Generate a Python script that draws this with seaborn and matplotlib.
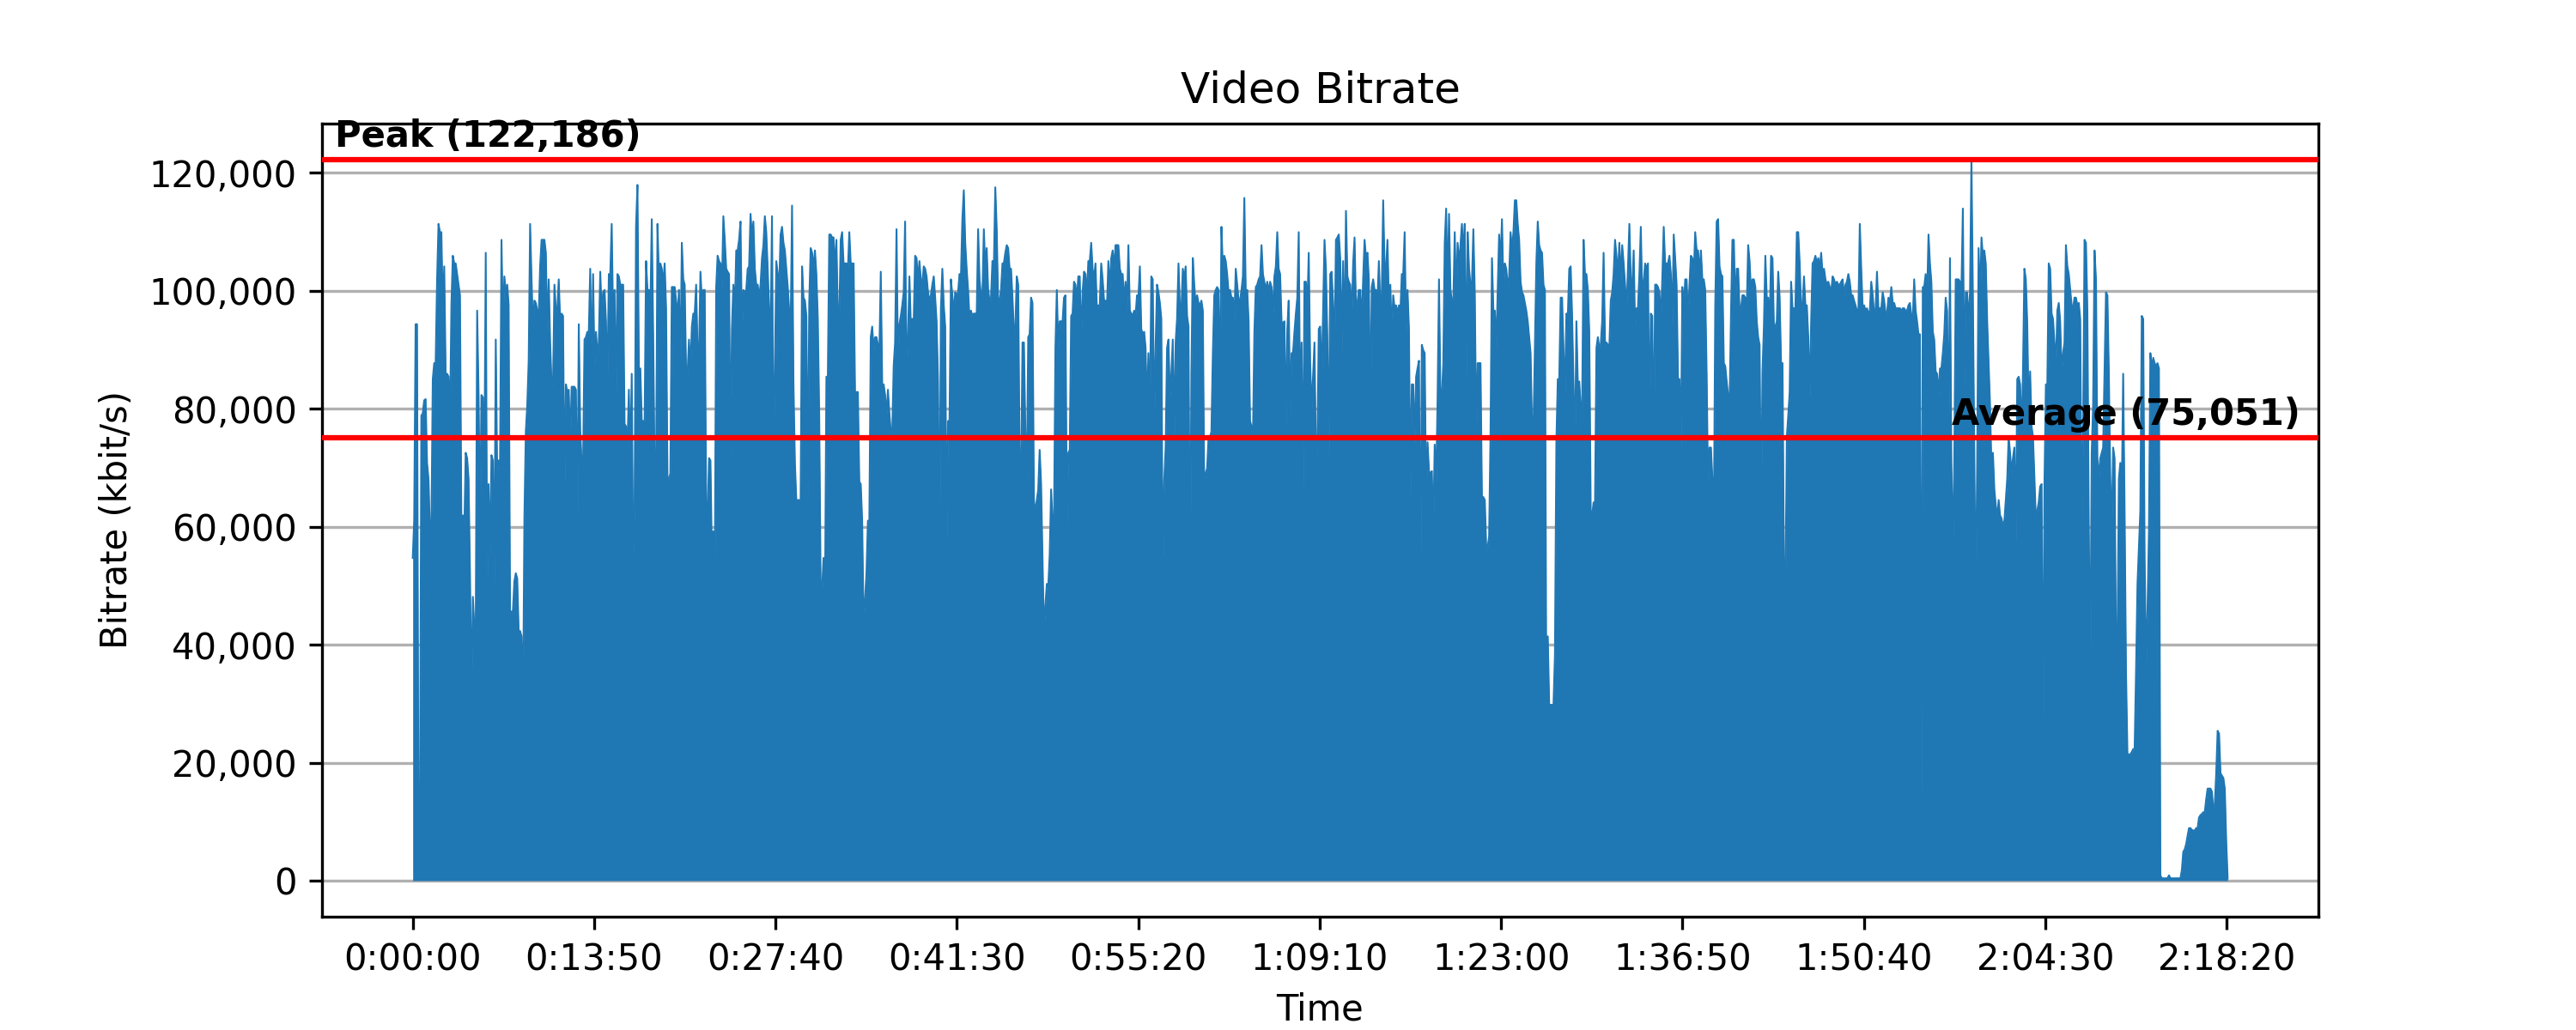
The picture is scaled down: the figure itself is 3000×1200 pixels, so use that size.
import numpy as np
import pandas as pd
import matplotlib
matplotlib.use("Agg")
import matplotlib.pyplot as plt
import matplotlib.transforms as mtransforms
from matplotlib.ticker import StrMethodFormatter
import seaborn as sns

# ---------------- data ----------------
SAMPLE_SECONDS = 6.549  # one estimated value every ~6.5 s of running time

# 0:00:00 - ~0:19:40
bitrate_part1 = [
    54700, 61000, 94300, 94300, 5800, 5800, 78800, 79200, 81400, 81600,
    70800, 68100, 59200, 59200, 85000, 87700, 87700, 101900, 111300, 109900,
    109900, 96600, 104100, 85900, 85900, 85400, 77000, 97500, 105900, 104600,
    104600, 102800, 101000, 99200, 60100, 61900, 59200, 72500, 71600, 68100,
    52100, 30300, 48100, 43200, 41400, 96600, 82300, 58300, 82300, 81900,
    68100, 106400, 49800, 67200, 54700, 72100, 71200, 49800, 91700, 69000,
    71200, 71200, 108600, 93900, 102400, 99700, 101000, 97600, 45800, 45400,
    45800, 50700, 52100, 51200, 42300, 42300, 41400, 27100, 61400, 76100,
    80500, 88100, 111300, 101900, 93500, 98300, 97900, 96600, 95700, 104100,
    108600, 108600, 108600, 106400, 92100, 101900, 91200, 84100, 84100, 101000,
    96600, 96600, 101900, 94800, 96100, 95700, 65400, 84100, 82800, 83200,
    73400, 83700, 83700, 83700, 83200, 59200, 94300, 76500, 70800, 70800,
    91700, 92100, 93000, 93000, 103700, 85900, 102800, 86800, 93000, 89400,
    91200, 103200, 96100, 99700, 100100, 94800, 84100, 102800, 102800, 111300,
    94800, 100100, 80500, 102800, 102400, 101000, 101000, 101000, 77400, 77000,
    73400, 83200, 69900, 85900, 54700, 63600, 110800, 117900, 86800, 86800,
    77900, 77900, 77900, 105000, 100100, 100100, 96600, 112100, 92100, 69000,
    69000, 111300, 101900, 104600, 103700, 101000, 104600, 97000, 68100, 68100,
]

# ~0:19:40 - ~0:46:30
bitrate_part2 = [
    69000, 100600, 100600, 100600, 98300, 95700, 100100, 86300, 108100, 101900,
    101000, 85900, 85900, 91700, 86300, 93900, 96100, 96100, 101000, 89400,
    89400, 103200, 98300, 100100, 100100, 64100, 61400, 71600, 71200, 55200,
    59200, 50700, 100600, 105900, 105000, 104600, 100600, 112600, 108600, 103700,
    103200, 102800, 70800, 93500, 101000, 96600, 106800, 106800, 108600, 111700,
    92600, 100100, 99700, 100100, 103700, 104100, 113000, 109000, 111700, 103700,
    101000, 101000, 98800, 101000, 105500, 107700, 112600, 109900, 103700, 96600,
    92600, 112600, 71200, 86800, 105000, 102800, 100600, 109500, 110800, 108100,
    106800, 103700, 100600, 96600, 93000, 114400, 84100, 70800, 64500, 64500,
    64500, 64500, 104100, 98800, 98300, 95700, 64500, 97900, 107200, 106400,
    103700, 106800, 102800, 95200, 78800, 49800, 49400, 54700, 47200, 85400,
    85400, 109500, 109500, 109000, 109000, 103700, 108600, 95700, 95700, 108600,
    109900, 104600, 104600, 104600, 103200, 109900, 104600, 104600, 104600, 82800,
    82800, 82800, 67600, 67200, 61000, 43200, 47600, 52100, 61000, 61000,
    92100, 93900, 89900, 92100, 92100, 90800, 89400, 103200, 84100, 84100,
    82300, 78800, 83200, 79200, 76100, 76100, 87200, 91200, 110400, 87700,
    94300, 95700, 97500, 99700, 111700, 85900, 92100, 102400, 94300, 95200,
    94800, 105900, 105500, 101500, 105000, 101900, 101000, 104100, 103700, 102400,
    99700, 98300, 99200, 101000, 102400, 98800, 94800, 84600, 52100, 97000,
    103700, 97500, 93900, 57000, 77900, 77900, 101900, 99200, 96100, 99700,
    99200, 99700, 102800, 102400, 112100, 117000, 108100, 103700, 100100, 95200,
    96600, 95700, 96100, 96100, 95700, 110400, 101900, 99200, 99200, 110400,
    103700, 107200, 100100, 98300, 98800, 105000, 104100, 117500, 110400, 97900,
    98300, 100100, 104600, 104600, 106400, 107700, 107200, 103700, 103700, 98800,
    93000, 93500, 102400, 101000, 71600, 67200,
]

# ~0:46:30 - ~1:13:20
bitrate_part3 = [
    91200, 91200, 76100, 67200, 92100, 92600, 98800, 97900, 64500, 62300,
    64500, 66300, 73000, 67200, 54300, 41800, 46700, 50300, 49800, 55200,
    66300, 61000, 59600, 90300, 100100, 90300, 94800, 94800, 94800, 98800,
    99200, 60100, 72500, 73000, 95700, 96100, 101500, 101000, 98300, 102400,
    102400, 91200, 99700, 103200, 102800, 98800, 105000, 105000, 108100, 103700,
    101900, 104600, 96600, 97500, 97500, 104600, 101900, 98300, 98300, 97000,
    105000, 100100, 105500, 106800, 103700, 107700, 107700, 107700, 103700, 102800,
    102800, 97900, 101500, 96600, 107700, 96600, 96100, 95700, 96600, 95700,
    99200, 98800, 104100, 93500, 92600, 93000, 90300, 79700, 89400, 77900,
    102400, 101900, 77000, 90300, 101000, 99700, 97900, 95200, 50700, 67600,
    73400, 90300, 91700, 81900, 85900, 91700, 74800, 91200, 95200, 104600,
    97000, 96600, 103700, 101900, 104100, 95700, 93900, 44900, 85900, 105500,
    101000, 97500, 99200, 97900, 97500, 98300, 96600, 66300, 69000, 69900,
    75200, 75200, 76100, 89400, 99200, 100100, 100600, 100100, 81000, 110800,
    103700, 105900, 105000, 102800, 99700, 100100, 98800, 98800, 94800, 103700,
    101000, 98300, 98300, 100100, 102400, 115700, 99700, 100100, 94800, 77900,
    77000, 74800, 93000, 100600, 101000, 101900, 102400, 107700, 102800, 101500,
    100100, 101500, 99700, 101500, 100600, 95700, 102400, 104100, 109900, 103700,
    102800, 94800, 94300, 94800, 76500, 93500, 98300, 78800, 89400, 89400,
    93000, 96100, 98800, 109900, 78800, 91200, 65000, 101500, 101500, 97000,
    106400, 87700, 79700, 85400, 91200, 71600, 73400, 93500, 93900, 84100,
    96600, 108600, 103700, 92100, 70800, 102800, 103200, 97900, 89400, 108600,
    109000, 109500, 105500, 89400, 105000, 89900, 113500, 102400, 101500, 101000,
    94800, 104600, 109000, 97000, 97900, 100100, 100100, 94300, 101900, 108600,
    105500, 106400, 101900, 77000, 100600, 101900,
]

# ~1:13:20 - ~1:40:10
bitrate_part4 = [
    100100, 100100, 98300, 105000, 97500, 98800, 115300, 103700, 103700, 108600,
    97500, 101000, 92100, 99200, 97000, 97500, 96100, 97500, 96100, 102800,
    102800, 109900, 93000, 100100, 93500, 65000, 84100, 84100, 73900, 85400,
    86800, 88100, 45800, 90800, 89900, 89400, 63600, 74300, 69400, 69000,
    69400, 59200, 73900, 67200, 81400, 101900, 82300, 81900, 87700, 108100,
    113900, 99200, 113000, 100100, 98300, 97900, 109900, 97900, 108100, 104600,
    107700, 111300, 105900, 111300, 85000, 109900, 103700, 101000, 101000, 110400,
    99700, 75200, 87700, 87700, 87700, 65000, 65000, 64500, 56500, 56500,
    58300, 75700, 105500, 96600, 96600, 90300, 100100, 109500, 104600, 112100,
    100100, 104600, 103700, 100600, 102400, 109900, 106800, 109900, 115300, 115300,
    111300, 108600, 101500, 99700, 99200, 97900, 96600, 94800, 92100, 89400,
    77000, 76500, 90300, 104600, 111700, 107700, 106800, 106400, 101000, 100100,
    29800, 41400, 29800, 29800, 29800, 29800, 38300, 74300, 85000, 85000,
    98800, 98800, 89900, 82300, 96100, 95700, 103700, 104100, 95700, 84100,
    72100, 94800, 84100, 84600, 80100, 79700, 108600, 102800, 102800, 100100,
    93000, 62700, 61900, 64100, 64100, 90300, 92100, 90300, 90800, 94800,
    106400, 91200, 91200, 90800, 90300, 98300, 99700, 102800, 108600, 105900,
    102400, 108100, 101900, 107700, 104600, 101000, 96600, 103700, 111300, 101900,
    100100, 106800, 93500, 97000, 97000, 102800, 110800, 98800, 101500, 104600,
    103700, 104600, 75200, 96100, 95700, 71600, 101000, 101000, 100600, 99700,
    94800, 101900, 110800, 104600, 104600, 104600, 105900, 102800, 94300, 109500,
    105500, 101000, 85000, 85000, 73400, 100600, 96600, 101900, 101900, 95200,
    101000, 105900, 105500, 102800, 109900, 106800, 106800, 102800, 106800, 101900,
    101900, 100100, 85900, 66300, 73400, 73400, 68100, 59200, 97500, 111700,
    112100, 104100, 102800, 102400, 87700, 87200,
]

# ~1:40:10 - ~2:07:00
bitrate_part5 = [
    84600, 82300, 80500, 96100, 108600, 108600, 96600, 103700, 103700, 96600,
    97000, 99200, 99200, 98800, 96600, 107700, 105000, 99700, 101900, 101900,
    100600, 94800, 92100, 90800, 60100, 86300, 93900, 105900, 98800, 98800,
    93900, 105900, 105500, 93900, 93900, 94800, 103200, 98800, 87700, 87700,
    53400, 48100, 75200, 78800, 82800, 101500, 97000, 97000, 97000, 109900,
    109900, 104600, 96600, 97500, 102400, 97500, 97500, 92100, 81900, 94800,
    104600, 105000, 105900, 104600, 105500, 103700, 106400, 102800, 103700, 101900,
    101000, 101500, 100600, 99700, 102400, 101900, 101000, 101500, 101000, 101000,
    101500, 101900, 99200, 101000, 101500, 102800, 101500, 99200, 99200, 98300,
    97500, 96600, 96100, 111300, 103700, 97000, 97500, 96600, 97000, 96100,
    96600, 101500, 99200, 96100, 96600, 103200, 97000, 97000, 97000, 99700,
    98300, 96100, 96100, 98800, 97900, 100600, 97900, 97900, 97000, 97000,
    97000, 97000, 96600, 97000, 97000, 96600, 96600, 97500, 97900, 95700,
    95200, 101900, 96600, 94800, 92600, 92600, 13400, 100600, 100600, 102800,
    98800, 109500, 104600, 101500, 93000, 91700, 86300, 85900, 82300, 86800,
    86800, 89400, 92600, 98800, 96600, 74300, 105500, 70800, 55600, 70800,
    101900, 101900, 101900, 101500, 100100, 113900, 84100, 99700, 99700, 94800,
    99700, 122186, 99200, 71600, 45800, 70800, 107200, 97500, 109000, 105900,
    106800, 104600, 94800, 87700, 80500, 69900, 72500, 66300, 63600, 61400,
    64500, 61900, 61400, 60100, 61000, 64500, 68100, 75200, 72500, 69000,
    71600, 73400, 57400, 85000, 85400, 84100, 75200, 86300, 103700, 101900,
    94300, 78800, 86300, 77000, 75200, 68100, 61400, 62700, 64100, 66800,
    67200, 20900, 67200, 84100, 84100, 104600, 103700, 96100, 95200, 91200,
    87200, 96600, 97900, 94800, 85900, 89400, 91200, 107700, 104100, 102800,
    100100, 97500, 97000, 98800, 98800, 97500,
]

# ~2:07:00 - end
bitrate_part6 = [
    97900, 95200, 59200, 76100, 108600, 108100, 96600, 59200, 33400, 72500,
    80500, 106800, 101900, 71600, 68100, 71600, 72500, 73400, 86300, 99700,
    99200, 85900, 68100, 59200, 73400, 71600, 39600, 39600, 68100, 70800,
    64500, 85900, 62700, 35200, 21400, 21400, 21400, 21800, 22300, 22300,
    35600, 50300, 56500, 62700, 95700, 95200, 54700, 36000, 45800, 59200,
    89400, 86800, 88600, 87700, 87200, 87700, 86800, 900, 400, 400,
    400, 400, 400, 900, 400, 400, 400, 400, 400, 400,
    400, 400, 1800, 4900, 5300, 6200, 7600, 8900, 8900, 8600,
    8500, 8500, 8900, 8900, 10700, 11100, 11300, 11600, 11600, 13800,
    15600, 15600, 15600, 15100, 12000, 12900, 18200, 25400, 24900, 18200,
    17800, 17400, 15600, 6700, 400,
]

peak_kbps = 122186
average_kbps = 75051

x_tick_labels = ["0:00:00", "0:13:50", "0:27:40", "0:41:30", "0:55:20", "1:09:10",
                 "1:23:00", "1:36:50", "1:50:40", "2:04:30", "2:18:20"]

title_text = "Video Bitrate"
x_label = "Time"
y_label = "Bitrate (kbit/s)"
peak_label = "Peak (122,186)"
average_label = "Average (75,051)"

# ---------------- build table ----------------
bitrate_kbps = (bitrate_part1 + bitrate_part2 + bitrate_part3
                + bitrate_part4 + bitrate_part5 + bitrate_part6)
df = pd.DataFrame({
    "time_s": np.arange(len(bitrate_kbps)) * SAMPLE_SECONDS,
    "kbps": bitrate_kbps,
})


def label_to_seconds(lbl):
    h, m, s = (int(p) for p in lbl.split(":"))
    return h * 3600 + m * 60 + s


x_tick_pos = [label_to_seconds(l) for l in x_tick_labels]

# ---------------- draw ----------------
fig, ax = plt.subplots(figsize=(10, 4), dpi=300)

blue = "#1f77b4"
ax.fill_between(df["time_s"], df["kbps"], 0, color=blue, linewidth=0, zorder=2)
sns.lineplot(data=df, x="time_s", y="kbps", ax=ax, color=blue, linewidth=0.5,
             estimator=None, zorder=2)

ax.axhline(peak_kbps, color="red", linewidth=1.5, zorder=3)
ax.axhline(average_kbps, color="red", linewidth=1.5, zorder=3)

trans = mtransforms.blended_transform_factory(ax.transAxes, ax.transData)
ax.annotate(peak_label, xy=(0.0063, peak_kbps), xycoords=trans,
            xytext=(0, 1.4), textcoords="offset points",
            ha="left", va="bottom", fontweight="bold", fontsize=10, zorder=4)
ax.annotate(average_label, xy=(0.991, average_kbps), xycoords=trans,
            xytext=(0, 1.4), textcoords="offset points",
            ha="right", va="bottom", fontweight="bold", fontsize=10, zorder=4)

ax.set_xticks(x_tick_pos)
ax.set_xticklabels(x_tick_labels)
ax.yaxis.set_major_formatter(StrMethodFormatter("{x:,.0f}"))

ax.set_axisbelow(True)
ax.yaxis.grid(True, color="#b0b0b0", linewidth=0.8)
ax.xaxis.grid(False)

ax.set_title(title_text, fontsize=12)
ax.set_xlabel(x_label)
ax.set_ylabel(y_label)

ax.margins(x=0.05, y=0.05)

fig.savefig("out.png", dpi=300)
